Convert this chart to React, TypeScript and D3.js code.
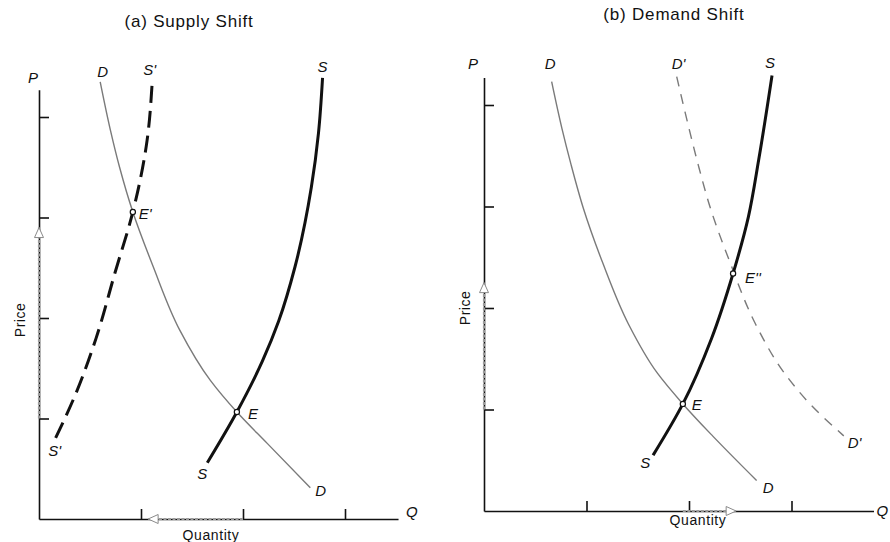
import React, { useEffect, useRef } from "react";
import * as d3 from "d3";

type Pt = [number, number]; // [quantity, price]

// (a) Supply Shift
const demandA: Pt[] = [
  [0.6, 4.35], [0.7, 3.87], [0.79, 3.5], [0.92, 3.055], [1.12, 2.51],
  [1.38, 1.88], [1.68, 1.38], [1.94, 1.065], [2.24, 0.75], [2.66, 0.31],
];
const supplyA: Pt[] = [
  [2.78, 4.39], [2.74, 3.84], [2.67, 3.3], [2.51, 2.51], [2.35, 1.97],
  [2.19, 1.57], [1.94, 1.065], [1.65, 0.56],
];
const supplyShiftA: Pt[] = [
  [1.11, 4.35], [1.06, 3.77], [0.92, 3.055], [0.745, 2.45], [0.56, 1.8],
  [0.37, 1.27], [0.16, 0.8],
];
const eqA: Pt = [1.94, 1.065];
const eqShiftA: Pt = [0.92, 3.055];
const priceMoveA = [1.0, 2.9];
const qtyMoveA = [2.0, 1.07];

// (b) Demand Shift
const demandB: Pt[] = [
  [0.66, 4.23], [0.76, 3.77], [0.85, 3.41], [0.97, 2.98], [1.16, 2.44],
  [1.41, 1.84], [1.69, 1.36], [1.94, 1.055], [2.23, 0.74], [2.66, 0.3],
];
const demandShiftB: Pt[] = [
  [1.88, 4.28], [2.0, 3.77], [2.09, 3.41], [2.21, 2.98], [2.4, 2.45],
  [2.65, 1.84], [2.93, 1.36], [3.18, 1.055], [3.51, 0.74],
];
const supplyB: Pt[] = [
  [2.81, 4.29], [2.68, 3.46], [2.58, 2.9], [2.43, 2.34], [2.22, 1.7],
  [1.94, 1.055], [1.65, 0.55],
];
const eqB: Pt = [1.94, 1.055];
const eqShiftB: Pt = [2.43, 2.34];
const priceMoveB = [1.0, 2.25];
const qtyMoveB = [1.94, 2.46];

const priceTicks = [1, 2, 3, 4];
const qtyTicks = [1, 2, 3];

const FONT = "'Liberation Sans', Arial, Helvetica, sans-serif";
const GRAY = "#7a7a7a";

function drawPanel(svg: any, p: any) {
  const x = d3.scaleLinear().domain([0, p.qMax]).range([p.x0, p.x0 + p.qMax * p.kx]);
  const y = d3.scaleLinear().domain([0, p.pMax]).range([p.y0, p.y0 - p.pMax * p.ky]);
  const g = svg.append("g");

  // axes (no tick labels, ticks point inward)
  const yAxis = d3.axisRight(y).tickValues(priceTicks).tickSize(10).tickSizeOuter(0).tickFormat(() => "");
  const xAxis = d3.axisTop(x).tickValues(qtyTicks).tickSize(10).tickSizeOuter(0).tickFormat(() => "");
  g.append("g").attr("transform", `translate(${x(0)},0)`).call(yAxis);
  g.append("g").attr("transform", `translate(0,${y(0)})`).call(xAxis);
  g.selectAll(".domain, .tick line").attr("stroke", "#111").attr("stroke-width", 1.6);

  // shift arrows on the axes
  const arrow = (x1: number, y1: number, x2: number, y2: number) => {
    g.append("line").attr("x1", x1).attr("y1", y1).attr("x2", x2).attr("y2", y2)
      .attr("stroke", "#9a9a9a").attr("stroke-width", 2.2).attr("stroke-dasharray", "3,1.5");
    const ang = Math.atan2(y2 - y1, x2 - x1);
    const L = 10, W = 4.5;
    const bx = x2 - L * Math.cos(ang), by = y2 - L * Math.sin(ang);
    const nx = -Math.sin(ang) * W, ny = Math.cos(ang) * W;
    g.append("path")
      .attr("d", `M${x2},${y2}L${bx + nx},${by + ny}L${bx - nx},${by - ny}Z`)
      .attr("fill", "#fff").attr("stroke", "#8a8a8a").attr("stroke-width", 1);
  };
  arrow(x(0), y(p.priceMove[0]), x(0), y(p.priceMove[1]));
  arrow(x(p.qtyMove[0]), y(0), x(p.qtyMove[1]), y(0));

  const line = d3.line<Pt>().x(d => x(d[0])).y(d => y(d[1])).curve(d3.curveMonotoneY);
  p.curves.forEach((c: any) => {
    g.append("path").attr("d", line(c.data)).attr("fill", "none")
      .attr("stroke", c.color).attr("stroke-width", c.width)
      .attr("stroke-dasharray", c.dash || null)
      .attr("stroke-dashoffset", c.offset || 0)
      .attr("stroke-linecap", "butt");
  });

  p.points.forEach((d: Pt) => {
    g.append("circle").attr("cx", x(d[0])).attr("cy", y(d[1])).attr("r", 2.6)
      .attr("fill", "#fff").attr("stroke", "#111").attr("stroke-width", 1.2);
  });

  p.labels.forEach((l: any) => {
    g.append("text").attr("x", x(l.at[0]) + l.dx).attr("y", y(l.at[1]) + l.dy)
      .attr("font-family", FONT).attr("font-size", 15).attr("font-style", "italic")
      .attr("fill", "#111").text(l.text);
  });

  g.append("text").attr("x", p.titleX).attr("y", p.titleY).attr("text-anchor", "middle")
    .attr("font-family", FONT).attr("font-size", 17).attr("letter-spacing", 0.8)
    .attr("fill", "#111").text(p.title);
  g.append("text").attr("x", p.qtyX).attr("y", p.qtyY).attr("text-anchor", "middle")
    .attr("font-family", FONT).attr("font-size", 14).attr("letter-spacing", 0.6)
    .attr("fill", "#111").text("Quantity");
  g.append("text").attr("transform", `translate(${p.priceX},${p.priceY}) rotate(-90)`)
    .attr("text-anchor", "middle")
    .attr("font-family", FONT).attr("font-size", 14).attr("letter-spacing", 0.5)
    .attr("fill", "#111").text("Price");
}

export default function App() {
  const ref = useRef<SVGSVGElement>(null);

  useEffect(() => {
    const svg = d3.select(ref.current);
    svg.selectAll("*").remove();

    drawPanel(svg, {
      x0: 39, kx: 102, y0: 519, ky: 100.5, qMax: 3.52, pMax: 4.27,
      priceMove: priceMoveA, qtyMove: qtyMoveA,
      curves: [
        { data: demandA, color: GRAY, width: 1.4 },
        { data: supplyA, color: "#111", width: 3 },
        { data: supplyShiftA, color: "#111", width: 3, dash: "17,8", offset: 21 },
      ],
      points: [eqA, eqShiftA],
      labels: [
        { text: "D", at: demandA[0], dx: -3, dy: -5 },
        { text: "S'", at: supplyShiftA[0], dx: -9, dy: -7 },
        { text: "S", at: supplyA[0], dx: -5, dy: -6 },
        { text: "S'", at: supplyShiftA[supplyShiftA.length - 1], dx: -7, dy: 17 },
        { text: "S", at: supplyA[supplyA.length - 1], dx: -10, dy: 16 },
        { text: "D", at: demandA[demandA.length - 1], dx: 5, dy: 8 },
        { text: "E", at: eqA, dx: 11, dy: 7 },
        { text: "E'", at: eqShiftA, dx: 6, dy: 7 },
        { text: "P", at: [0, 4.27], dx: -11, dy: -7 },
        { text: "Q", at: [3.52, 0], dx: 8, dy: -2 },
      ],
      title: "(a) Supply Shift", titleX: 189, titleY: 27,
      qtyX: 211, qtyY: 540, priceX: 25, priceY: 320,
    });

    drawPanel(svg, {
      x0: 484, kx: 102.5, y0: 511, ky: 101.5, qMax: 3.8, pMax: 4.27,
      priceMove: priceMoveB, qtyMove: qtyMoveB,
      curves: [
        { data: demandB, color: GRAY, width: 1.4 },
        { data: demandShiftB, color: GRAY, width: 1.4, dash: "10,8" },
        { data: supplyB, color: "#111", width: 3 },
      ],
      points: [eqB, eqShiftB],
      labels: [
        { text: "D", at: demandB[0], dx: -7, dy: -13 },
        { text: "D'", at: demandShiftB[0], dx: -5, dy: -8 },
        { text: "S", at: supplyB[0], dx: -7, dy: -8 },
        { text: "S", at: supplyB[supplyB.length - 1], dx: -13, dy: 13 },
        { text: "D", at: demandB[demandB.length - 1], dx: 6, dy: 12 },
        { text: "D'", at: demandShiftB[demandShiftB.length - 1], dx: 4, dy: 12 },
        { text: "E", at: eqB, dx: 9, dy: 6 },
        { text: "E''", at: eqShiftB, dx: 12, dy: 10 },
        { text: "P", at: [0, 4.27], dx: -16, dy: -9 },
        { text: "Q", at: [3.8, 0], dx: 3, dy: 5 },
      ],
      title: "(b) Demand Shift", titleX: 674, titleY: 20,
      qtyX: 698, qtyY: 525, priceX: 470, priceY: 308,
    });
  }, []);

  return (
    <svg
      ref={ref}
      width={890}
      height={542}
      style={{ position: "absolute", left: 0, top: 0, background: "#fff" }}
    />
  );
}
